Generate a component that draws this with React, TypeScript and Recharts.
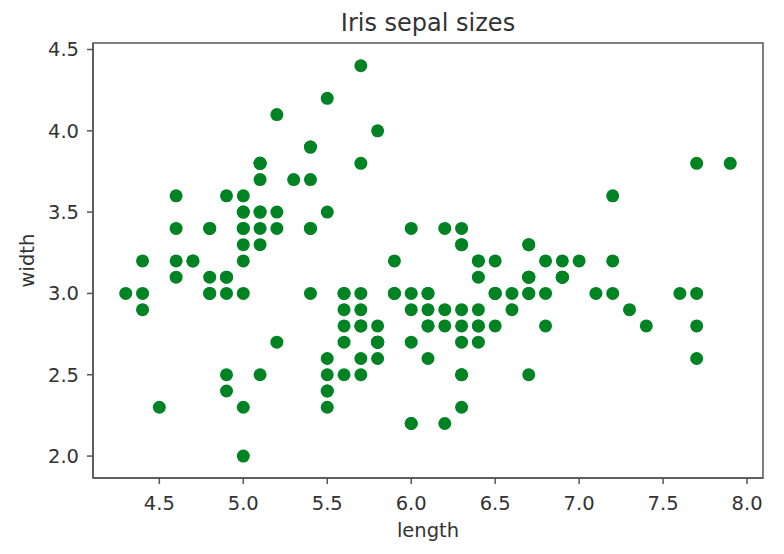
import {
  Customized,
  ReferenceArea,
  Scatter,
  ScatterChart,
  XAxis,
  YAxis,
} from "recharts";

// sepal length / width, iris dataset (150 samples)
const sepalLength = [
  5.1, 4.9, 4.7, 4.6, 5.0, 5.4, 4.6, 5.0, 4.4, 4.9, 5.4, 4.8, 4.8, 4.3, 5.8,
  5.7, 5.4, 5.1, 5.7, 5.1, 5.4, 5.1, 4.6, 5.1, 4.8, 5.0, 5.0, 5.2, 5.2, 4.7,
  4.8, 5.4, 5.2, 5.5, 4.9, 5.0, 5.5, 4.9, 4.4, 5.1, 5.0, 4.5, 4.4, 5.0, 5.1,
  4.8, 5.1, 4.6, 5.3, 5.0,
  7.0, 6.4, 6.9, 5.5, 6.5, 5.7, 6.3, 4.9, 6.6, 5.2, 5.0, 5.9, 6.0, 6.1, 5.6,
  6.7, 5.6, 5.8, 6.2, 5.6, 5.9, 6.1, 6.3, 6.1, 6.4, 6.6, 6.8, 6.7, 6.0, 5.7,
  5.5, 5.5, 5.8, 6.0, 5.4, 6.0, 6.7, 6.3, 5.6, 5.5, 5.5, 6.1, 5.8, 5.0, 5.6,
  5.7, 5.7, 6.2, 5.1, 5.7,
  6.3, 5.8, 7.1, 6.3, 6.5, 7.6, 4.9, 7.3, 6.7, 7.2, 6.5, 6.4, 6.8, 5.7, 5.8,
  6.4, 6.5, 7.7, 7.7, 6.0, 6.9, 5.6, 7.7, 6.3, 6.7, 7.2, 6.2, 6.1, 6.4, 7.2,
  7.4, 7.9, 6.4, 6.3, 6.1, 7.7, 6.3, 6.4, 6.0, 6.9, 6.7, 6.9, 5.8, 6.8, 6.7,
  6.7, 6.3, 6.5, 6.2, 5.9,
];

const sepalWidth = [
  3.5, 3.0, 3.2, 3.1, 3.6, 3.9, 3.4, 3.4, 2.9, 3.1, 3.7, 3.4, 3.0, 3.0, 4.0,
  4.4, 3.9, 3.5, 3.8, 3.8, 3.4, 3.7, 3.6, 3.3, 3.4, 3.0, 3.4, 3.5, 3.4, 3.2,
  3.1, 3.4, 4.1, 4.2, 3.1, 3.2, 3.5, 3.6, 3.0, 3.4, 3.5, 2.3, 3.2, 3.5, 3.8,
  3.0, 3.8, 3.2, 3.7, 3.3,
  3.2, 3.2, 3.1, 2.3, 2.8, 2.8, 3.3, 2.4, 2.9, 2.7, 2.0, 3.0, 2.2, 2.9, 2.9,
  3.1, 3.0, 2.7, 2.2, 2.5, 3.2, 2.8, 2.5, 2.8, 2.9, 3.0, 2.8, 3.0, 2.9, 2.6,
  2.4, 2.4, 2.7, 2.7, 3.0, 3.4, 3.1, 2.3, 3.0, 2.5, 2.6, 3.0, 2.6, 2.3, 2.7,
  3.0, 2.9, 2.9, 2.5, 2.8,
  3.3, 2.7, 3.0, 2.9, 3.0, 3.0, 2.5, 2.9, 2.5, 3.6, 3.2, 2.7, 3.0, 2.5, 2.8,
  3.2, 3.0, 3.8, 2.6, 2.2, 3.2, 2.8, 2.8, 2.7, 3.3, 3.2, 2.8, 3.0, 2.8, 3.0,
  2.8, 3.8, 2.8, 2.8, 2.6, 3.0, 3.4, 3.1, 3.0, 3.1, 3.1, 3.1, 2.7, 3.2, 3.3,
  3.0, 2.5, 3.0, 3.4, 3.0,
];

const xTicks = [4.5, 5.0, 5.5, 6.0, 6.5, 7.0, 7.5, 8.0];
const yTicks = [2.0, 2.5, 3.0, 3.5, 4.0, 4.5];

const title = "Iris sepal sizes";
const xLabel = "length";
const yLabel = "width";

const FONT = "'DejaVu Sans', sans-serif";
const INK = "#333";
const AXIS = "#555";
const GREEN = "#008323";

const X_DOMAIN: [number, number] = [4.105, 8.095];
const Y_DOMAIN: [number, number] = [1.865, 4.54];

const points = sepalLength.map((x, i) => ({ x, y: sepalWidth[i] }));

const Dot = (props: any) => {
  const { cx, cy } = props;
  if (cx == null || cy == null) return <g />;
  return <circle cx={cx} cy={cy} r={6.5} fill={GREEN} />;
};

const XTitle = (props: any) => {
  const { x, y, width, height } = props.viewBox;
  return (
    <text
      x={x + width / 2}
      y={y + height - 17}
      textAnchor="middle"
      fontFamily={FONT}
      fontSize={19.5}
      fill={INK}
    >
      {xLabel}
    </text>
  );
};

const YTitle = (props: any) => {
  const { y, height } = props.viewBox;
  const cx = 19;
  const cy = y + height / 2;
  return (
    <text
      x={cx}
      y={cy}
      transform={`rotate(-90, ${cx}, ${cy})`}
      textAnchor="middle"
      dominantBaseline="central"
      fontFamily={FONT}
      fontSize={19.5}
      fill={INK}
    >
      {yLabel}
    </text>
  );
};

const ChartTitle = (props: any) => {
  const { offset } = props;
  const left = offset?.left ?? 85;
  const w = offset?.width ?? 670;
  return (
    <text
      x={left + w / 2}
      y={23}
      textAnchor="middle"
      fontFamily={FONT}
      fontSize={24}
      fill={INK}
    >
      {title}
    </text>
  );
};

export default function App() {
  const tick = { fill: INK, fontSize: 19.5, fontFamily: FONT };
  return (
    <div style={{ width: 776, height: 546, background: "#fff" }}>
      <ScatterChart
        width={776}
        height={546}
        margin={{ top: 35, right: 21, bottom: 0, left: 0 }}
      >
        <XAxis
          type="number"
          dataKey="x"
          domain={X_DOMAIN}
          allowDataOverflow
          ticks={xTicks}
          tickFormatter={(v: number) => v.toFixed(1)}
          height={76}
          tickSize={6}
          tickMargin={12}
          stroke={AXIS}
          strokeWidth={1.5}
          tick={tick}
          label={{ content: <XTitle /> }}
        />
        <YAxis
          type="number"
          dataKey="y"
          domain={Y_DOMAIN}
          allowDataOverflow
          ticks={yTicks}
          tickFormatter={(v: number) => v.toFixed(1)}
          width={85}
          tickSize={6}
          tickMargin={8}
          stroke={AXIS}
          strokeWidth={1.5}
          tick={tick}
          label={{ content: <YTitle /> }}
        />
        <Scatter
          data={points}
          shape={<Dot />}
          isAnimationActive={false}
        />
        <ReferenceArea
          x1={X_DOMAIN[0]}
          x2={X_DOMAIN[1]}
          y1={Y_DOMAIN[0]}
          y2={Y_DOMAIN[1]}
          fill="none"
          stroke={AXIS}
          strokeWidth={1.5}
          ifOverflow="visible"
        />
        <Customized component={ChartTitle} />
      </ScatterChart>
    </div>
  );
}
